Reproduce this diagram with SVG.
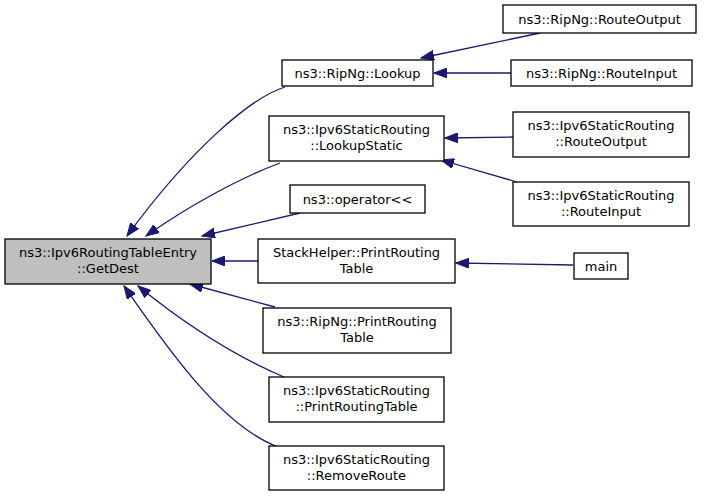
<svg xmlns="http://www.w3.org/2000/svg" width="704" height="497" viewBox="0 0 704 497">
<style>
.n rect{fill:#fff;stroke:#000;stroke-width:1.3}
.n.m rect{fill:#bfbfbf}
text{font-family:"DejaVu Sans",sans-serif;font-size:13px;text-anchor:middle;fill:#000}
.e path{fill:none;stroke:#191970;stroke-width:1.3}
</style>
<defs>
<marker id="a" markerUnits="userSpaceOnUse" markerWidth="14" markerHeight="10" viewBox="0 0 14 10" refX="13" refY="5" orient="auto">
<path d="M0,0 L13,5 L0,10 Z" fill="#191970" stroke="#191970"/>
</marker>
</defs>
<rect width="704" height="497" fill="#fff"/>
<g class="e">
<path d="M285,87 C250,98 190,150 127,236" marker-end="url(#a)"/>
<path d="M280,163 C240,178 190,205 146,236" marker-end="url(#a)"/>
<path d="M300,213 L202,236" marker-end="url(#a)"/>
<path d="M258,261 L212,261" marker-end="url(#a)"/>
<path d="M275,307 L190,284" marker-end="url(#a)"/>
<path d="M284,377 C232,355 180,320 138,286" marker-end="url(#a)"/>
<path d="M278,447 C220,425 165,345 124,286" marker-end="url(#a)"/>
<path d="M540,33 L421,58" marker-end="url(#a)"/>
<path d="M511,73 L434,73" marker-end="url(#a)"/>
<path d="M513,137 L445,138" marker-end="url(#a)"/>
<path d="M517,182 L441,160" marker-end="url(#a)"/>
<path d="M573,265 L456,263" marker-end="url(#a)"/>
</g>
<g id="getdest" class="n m"><rect x="5" y="239" width="206" height="45"/><text x="108" y="257">ns3::Ipv6RoutingTableEntry</text><text x="108" y="273">::GetDest</text></g>
<g id="lookup" class="n"><rect x="282" y="60" width="151" height="26"/><text x="357.5" y="78">ns3::RipNg::Lookup</text></g>
<g id="lookupstatic" class="n"><rect x="269" y="116" width="175" height="45"/><text x="356.5" y="134">ns3::Ipv6StaticRouting</text><text x="356.5" y="150">::LookupStatic</text></g>
<g id="operator" class="n"><rect x="290" y="185" width="135" height="28"/><text x="357.5" y="204">ns3::operator&lt;&lt;</text></g>
<g id="stackhelper" class="n"><rect x="258" y="239" width="197" height="44"/><text x="356.5" y="257">StackHelper::PrintRouting</text><text x="356.5" y="273">Table</text></g>
<g id="ripngprint" class="n"><rect x="263" y="308" width="188" height="45"/><text x="357" y="326">ns3::RipNg::PrintRouting</text><text x="357" y="342">Table</text></g>
<g id="staticprint" class="n"><rect x="269" y="377" width="175" height="45"/><text x="356.5" y="395">ns3::Ipv6StaticRouting</text><text x="356.5" y="411">::PrintRoutingTable</text></g>
<g id="removeroute" class="n"><rect x="269" y="446" width="175" height="44"/><text x="356.5" y="464">ns3::Ipv6StaticRouting</text><text x="356.5" y="480">::RemoveRoute</text></g>
<g id="ripngrouteoutput" class="n"><rect x="503" y="5" width="193" height="28"/><text x="599.5" y="24">ns3::RipNg::RouteOutput</text></g>
<g id="ripngrouteinput" class="n"><rect x="511" y="60" width="181" height="26"/><text x="601.5" y="78">ns3::RipNg::RouteInput</text></g>
<g id="staticrouteoutput" class="n"><rect x="513" y="112" width="176" height="45"/><text x="601" y="130">ns3::Ipv6StaticRouting</text><text x="601" y="146">::RouteOutput</text></g>
<g id="staticrouteinput" class="n"><rect x="513" y="182" width="176" height="44"/><text x="601" y="200">ns3::Ipv6StaticRouting</text><text x="601" y="216">::RouteInput</text></g>
<g id="main" class="n"><rect x="574" y="253" width="54" height="26"/><text x="601" y="271">main</text></g>
</svg>
